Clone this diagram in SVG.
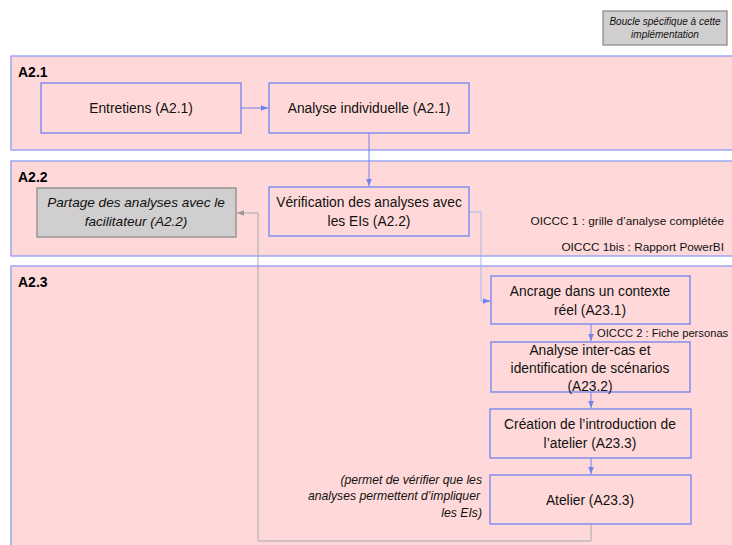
<svg xmlns="http://www.w3.org/2000/svg" width="732" height="545" viewBox="0 0 732 545">
<defs>
<style>
.cont{fill:#ffd9d9;stroke:#8c9af2;stroke-width:1.3}
.box{fill:#ffd9d9;stroke:#6f82f0;stroke-width:1.3}
.gbox{fill:#d0cece;stroke:#8c8c8c;stroke-width:1.3}
.t{font-family:"Liberation Sans",Arial,sans-serif;font-size:13.8px;fill:#111;text-anchor:middle}
.ti{font-family:"Liberation Sans",Arial,sans-serif;font-size:13.6px;fill:#111;text-anchor:middle;font-style:italic}
.lbl{font-family:"Liberation Sans",Arial,sans-serif;font-size:14px;font-weight:bold;fill:#000}
.sm{font-family:"Liberation Sans",Arial,sans-serif;font-size:11.8px;fill:#111}
.note{font-family:"Liberation Sans",Arial,sans-serif;font-size:12.2px;fill:#111;font-style:italic;text-anchor:end}
.bn{font-family:"Liberation Sans",Arial,sans-serif;font-size:10px;fill:#111;font-style:italic;text-anchor:middle}
.blue{fill:none;stroke:#6f82f0;stroke-width:1}
.lblue{fill:none;stroke:#a9b3f2;stroke-width:1}
.gray{fill:none;stroke:#a8a8a8;stroke-width:1}
</style>
<marker id="ab" viewBox="0 0 10 10" refX="10" refY="5" markerWidth="7" markerHeight="7" orient="auto" markerUnits="userSpaceOnUse"><path d="M0,1 L10,5 L0,9 z" fill="#6f82f0"/></marker>
<marker id="ag" viewBox="0 0 10 10" refX="10" refY="5" markerWidth="7" markerHeight="7" orient="auto" markerUnits="userSpaceOnUse"><path d="M0,1 L10,5 L0,9 z" fill="#999"/></marker>
</defs>
<rect width="732" height="545" fill="#fff"/>

<g id="legend">
<rect class="gbox" x="603" y="11" width="124" height="34"/>
<text class="bn" x="665" y="25">Boucle spécifique à cette</text>
<text class="bn" x="665" y="38">implémentation</text>
</g>

<g id="A21">
<rect class="cont" x="11" y="56" width="730" height="94"/>
<text class="lbl" x="18" y="77">A2.1</text>
</g>
<g id="A22">
<rect class="cont" x="11" y="161" width="730" height="95"/>
<text class="lbl" x="18" y="182">A2.2</text>
</g>
<g id="A23">
<rect class="cont" x="11" y="266" width="730" height="290"/>
<text class="lbl" x="18" y="287">A2.3</text>
</g>

<g id="connectors">
<line class="blue" x1="241" y1="108" x2="268" y2="108" marker-end="url(#ab)"/>
<line class="blue" x1="369" y1="133" x2="369" y2="186" marker-end="url(#ab)"/>
<polyline class="lblue" points="469,212 481,212 481,301 490,301"/>
<line class="blue" x1="484" y1="301" x2="490" y2="301" marker-end="url(#ab)"/>
<line class="blue" x1="591" y1="324" x2="591" y2="341" marker-end="url(#ab)"/>
<line class="blue" x1="591" y1="392" x2="591" y2="408" marker-end="url(#ab)"/>
<line class="blue" x1="591" y1="458" x2="591" y2="474" marker-end="url(#ab)"/>
<polyline class="gray" points="591,524 591,541 258,541 258,213 237,213" marker-end="url(#ag)"/>
</g>

<g id="entretiens">
<rect class="box" x="41" y="83" width="200" height="50"/>
<text class="t" x="141" y="113">Entretiens (A2.1)</text>
</g>
<g id="analyse">
<rect class="box" x="269" y="83" width="200" height="50"/>
<text class="t" x="369" y="113">Analyse individuelle (A2.1)</text>
</g>
<g id="partage">
<rect class="gbox" x="37" y="188" width="199" height="49"/>
<text class="ti" x="136" y="207">Partage des analyses avec le</text>
<text class="ti" x="136" y="226">facilitateur (A2.2)</text>
</g>
<g id="verification">
<rect class="box" x="269" y="187" width="200" height="49"/>
<text class="t" x="369" y="207">Vérification des analyses avec</text>
<text class="t" x="369" y="226">les EIs (A2.2)</text>
</g>
<g id="oiccc1">
<text class="sm" x="724" y="225" text-anchor="end">OICCC 1 : grille d’analyse complétée</text>
<text class="sm" x="724" y="251" text-anchor="end">OICCC 1bis : Rapport PowerBI</text>
</g>
<g id="ancrage">
<rect class="box" x="491" y="276" width="199" height="48"/>
<text class="t" x="590" y="296">Ancrage dans un contexte</text>
<text class="t" x="590" y="315">réel (A23.1)</text>
</g>
<g id="oiccc2">
<text class="sm" x="597" y="337" style="font-size:11.2px">OICCC 2 : Fiche personas</text>
</g>
<g id="intercas">
<rect class="box" x="491" y="342" width="199" height="50"/>
<text class="t" x="590" y="355">Analyse inter-cas et</text>
<text class="t" x="590" y="373">identification de scénarios</text>
<text class="t" x="590" y="391">(A23.2)</text>
</g>
<g id="creation">
<rect class="box" x="490" y="409" width="201" height="49"/>
<text class="t" x="590" y="429">Création de l’introduction de</text>
<text class="t" x="590" y="448">l’atelier (A23.3)</text>
</g>
<g id="atelier">
<rect class="box" x="490" y="475" width="201" height="49"/>
<text class="t" x="590" y="505">Atelier (A23.3)</text>
</g>
<g id="note">
<text class="note" x="482" y="484">(permet de vérifier que les</text>
<text class="note" x="480" y="500">analyses permettent d’impliquer</text>
<text class="note" x="482" y="517">les EIs)</text>
</g>
</svg>
